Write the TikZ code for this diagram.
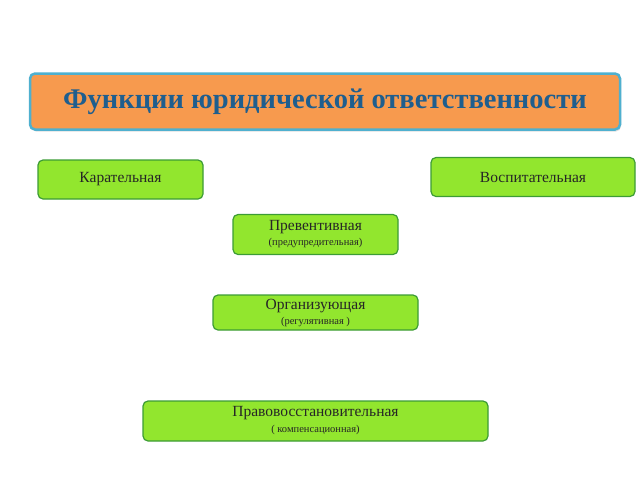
\documentclass[tikz,border=0pt]{standalone}
\usepackage{fontspec}
\setmainfont{Liberation Serif}
\usepackage{xcolor}
\usepackage{tikz}
\usetikzlibrary{shadows}
\definecolor{titlefill}{HTML}{F79A4E}
\definecolor{titledraw}{HTML}{4FB0CF}
\definecolor{titletext}{HTML}{1F5E8E}
\definecolor{funcfill}{HTML}{92E62E}
\definecolor{funcdraw}{HTML}{3C9C35}
\tikzset{
    titlebox/.style={draw=titledraw, line width=2.5pt, fill=titlefill, rounded corners=5pt,
        drop shadow={opacity=0.25, shadow xshift=1pt, shadow yshift=-2pt},
        font=\fontsize{28.5}{32}\selectfont\bfseries, text=titletext},
    funcbox/.style={draw=funcdraw, line width=1.2pt, fill=funcfill, rounded corners=5pt,
        align=center, font=\fontsize{15.5}{17}\selectfont, text=black!85}}
\newcommand{\subln}[1]{{\fontsize{10.5}{11}\selectfont #1}}

\begin{document}
\begin{tikzpicture}[x=1pt,y=-1pt]
    \useasboundingbox (0,0) rectangle (640,480);
    \node (T)[titlebox,minimum width=590pt,minimum height=56pt] at (325,101.5) {Функции юридической ответственности};

    \node (K)[funcbox,minimum width=165pt,minimum height=39pt] at (120.5,179.5) {Карательная};
    \node (V)[funcbox,minimum width=204pt,minimum height=39pt] at (533,177) {Воспитательная};
    \node (P)[funcbox,minimum width=165pt,minimum height=40pt] at (315.5,234.5) {Превентивная\\[-2pt]\subln{(предупредительная)}};
    \node (O)[funcbox,minimum width=205pt,minimum height=35pt] at (315.5,312.5) {Организующая\\[-2pt]\subln{(регулятивная )}};
    \node (R)[funcbox,minimum width=345pt,minimum height=40pt] at (315.5,421) {Правовосстановительная\\[-1pt]\subln{( компенсационная)}};
\end{tikzpicture}
\end{document}
